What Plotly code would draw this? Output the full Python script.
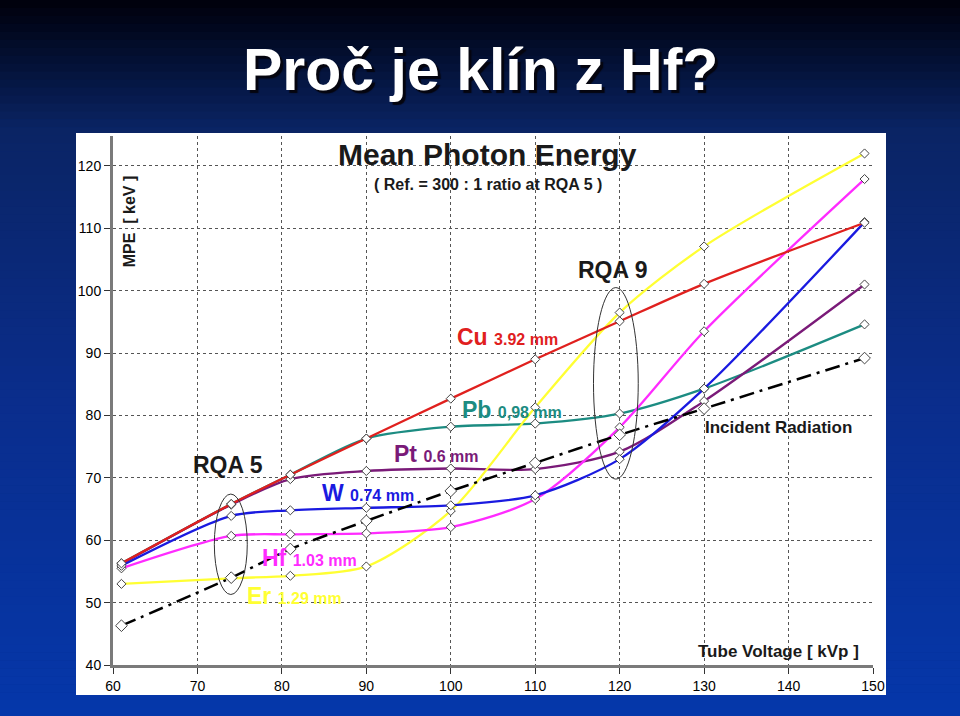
import plotly.graph_objects as go

# ---------------- data ----------------
kvp = [61, 74, 81, 90, 100, 110, 120, 130, 149]
cu = [56.3, 65.8, 70.5, 76.3, 82.7, 89.0, 95.1, 101.1, 110.9]
pb = [56.3, 65.8, 70.5, 76.3, 78.2, 78.7, 80.3, 84.3, 94.6]
pt = [56.2, 65.7, 69.8, 71.1, 71.5, 71.4, 74.2, 82.3, 101.0]
w = [55.9, 63.9, 64.8, 65.2, 65.6, 67.2, 73.0, 84.3, 111.0]
hf = [55.5, 60.7, 60.95, 61.1, 62.1, 66.6, 78.1, 93.5, 117.9]
er = [53.0, 53.9, 54.3, 55.8, 64.7, 81.3, 96.5, 107.1, 122.0]
incident = [46.3, 54.0, 58.6, 63.1, 67.9, 72.4, 76.9, 81.1, 89.2]

x_ticks = [60, 70, 80, 90, 100, 110, 120, 130, 140, 150]
y_ticks = [40, 50, 60, 70, 80, 90, 100, 110, 120]

# ---------------- geometry helpers ----------------
W, H = 960, 716
PL, PR, PT, PB = 113, 873, 136, 665  # plot area in px


def px_x(px):
    return (px - PL) / (PR - PL)


def px_y(py):
    return (PB - py) / (PB - PT)


fig = go.Figure()

series = [
    ("Pb", pb, "#1c8c82"),
    ("Pt", pt, "#7a1a78"),
    ("Er", er, "#ffff33"),
    ("Hf", hf, "#ff2bff"),
    ("W", w, "#1a1ae0"),
    ("Cu", cu, "#e0201e"),
]
for name, ys, col in series:
    fig.add_trace(go.Scatter(
        x=kvp, y=ys, name=name, mode="lines+markers",
        line=dict(color=col, width=2.3, shape="spline", smoothing=0.8),
        marker=dict(symbol="diamond", size=7, color="white",
                    line=dict(color="#444", width=1)),
        showlegend=False, hoverinfo="skip"))

fig.add_trace(go.Scatter(
    x=kvp, y=incident, name="Incident Radiation", mode="lines+markers",
    line=dict(color="black", width=2.5, dash="longdashdot", shape="spline", smoothing=0.5),
    marker=dict(symbol="diamond", size=9, color="white",
                line=dict(color="#444", width=1)),
    showlegend=False, hoverinfo="skip"))

shapes = []
# slide gradient background
stops = [(0, (0, 0, 10)), (60, (3, 16, 52)), (130, (10, 36, 100)),
         (400, (10, 45, 140)), (716, (5, 55, 170))]
N = 90
for i in range(N):
    y0 = H * i / N
    y1 = H * (i + 1) / N + 0.5
    yc = (y0 + y1) / 2
    for (a, ca), (b, cb) in zip(stops[:-1], stops[1:]):
        if a <= yc <= b:
            t = (yc - a) / (b - a)
            c = tuple(int(round(ca[k] + (cb[k] - ca[k]) * t)) for k in range(3))
            break
    shapes.append(dict(type="rect", xref="paper", yref="paper", layer="below",
                       x0=px_x(0), x1=px_x(W), y0=px_y(y1), y1=px_y(y0),
                       fillcolor="rgb(%d,%d,%d)" % c, line=dict(width=0)))
# white chart image background
shapes.append(dict(type="rect", xref="paper", yref="paper", layer="below",
                   x0=px_x(76), x1=px_x(886), y0=px_y(695), y1=px_y(133),
                   fillcolor="white", line=dict(width=0)))
# RQA ellipses
shapes.append(dict(type="circle", xref="x", yref="y", x0=72.0, x1=75.9, y0=51.3, y1=67.4,
                   line=dict(color="#333", width=1)))
shapes.append(dict(type="circle", xref="x", yref="y", x0=116.9, x1=122.2, y0=69.8, y1=100.5,
                   line=dict(color="#333", width=1)))

FONT = "Liberation Sans, Arial, sans-serif"
ann = []


def label(x, y, big, small, col, size_big=23, size_small=16):
    ann.append(dict(x=x, y=y, xref="x", yref="y", xanchor="left", yanchor="middle",
                    showarrow=False,
                    text="<b>%s</b> <span style='font-size:%dpx'><b>%s</b></span>" % (big, size_small, small),
                    font=dict(family=FONT, size=size_big, color=col)))


label(100.5, 92.6, "Cu", "3.92 mm", "#e0201e")
label(101.1, 80.9, "Pb", "0,98 mm", "#1c8c82")
label(93.0, 73.9, "Pt", "0.6 mm", "#7a1a78")
label(84.5, 67.5, "W", "0.74 mm", "#1a1ae0")
label(77.4, 57.1, "Hf", "1.03 mm", "#ff2bff")
label(75.6, 51.1, "Er", "1.29 mm", "#ffff33")

txt = "#1a1a1a"
ann += [
    dict(x=104.4, y=121.9, xref="x", yref="y", showarrow=False, yanchor="middle",
         text="<b>Mean Photon Energy</b>", font=dict(family=FONT, size=30, color=txt)),
    dict(x=104.4, y=117.1, xref="x", yref="y", showarrow=False, yanchor="middle",
         text="<b>( Ref. = 300 : 1 ratio at RQA 5 )</b>",
         font=dict(family=FONT, size=16, color=txt)),
    dict(x=119.2, y=103.3, xref="x", yref="y", showarrow=False, yanchor="middle",
         text="<b>RQA 9</b>", font=dict(family=FONT, size=23, color=txt)),
    dict(x=73.6, y=72.0, xref="x", yref="y", showarrow=False, yanchor="middle",
         text="<b>RQA 5</b>", font=dict(family=FONT, size=23, color=txt)),
    dict(x=129.9, y=78.1, xref="x", yref="y", xanchor="left", yanchor="middle", showarrow=False,
         text="<b>Incident Radiation</b>", font=dict(family=FONT, size=17, color=txt)),
    dict(x=129.0, y=42.1, xref="x", yref="y", xanchor="left", yanchor="middle", showarrow=False,
         text="<b>Tube Voltage [ kVp ]</b>", font=dict(family=FONT, size=17, color=txt)),
    dict(x=62.0, y=111.1, xref="x", yref="y", showarrow=False, textangle=-90,
         yanchor="middle", xanchor="center",
         text="<b>MPE  [ keV ]</b>", font=dict(family=FONT, size=16, color=txt)),
]
# slide title (white with dark drop shadow)
ann.append(dict(x=px_x(480), y=px_y(70), xref="paper", yref="paper",
                xanchor="center", yanchor="middle",
                showarrow=False, text="<b>Proč je klín z Hf?</b>",
                font=dict(family=FONT, size=59, color="white",
                          shadow="3px 3px 1px #05050f")))

fig.update_layout(
    width=W, height=H,
    margin=dict(l=PL, r=W - PR, t=PT, b=H - PB, pad=0),
    paper_bgcolor="rgb(5,40,120)",
    plot_bgcolor="#c0c0c0",
    shapes=shapes, annotations=ann,
    xaxis=dict(range=[60, 150], tickvals=x_ticks, showgrid=True, gridcolor="#555",
               griddash="dot", gridwidth=1, zeroline=False, showline=True,
               linecolor="#7a7a7a", linewidth=3, ticks="outside", ticklen=6,
               tickcolor="#333", tickfont=dict(family=FONT, size=14, color="black")),
    yaxis=dict(range=[40, 124.8], tickvals=y_ticks, showgrid=True, gridcolor="#555",
               griddash="dot", gridwidth=1, zeroline=False, showline=True,
               linecolor="#7a7a7a", linewidth=3, ticks="outside", ticklen=6,
               tickcolor="#333", tickfont=dict(family=FONT, size=14, color="black")),
)

fig.write_html("out.html", config={"displayModeBar": False},
               post_script="document.body.style.margin='0px';document.body.style.overflow='hidden';")
